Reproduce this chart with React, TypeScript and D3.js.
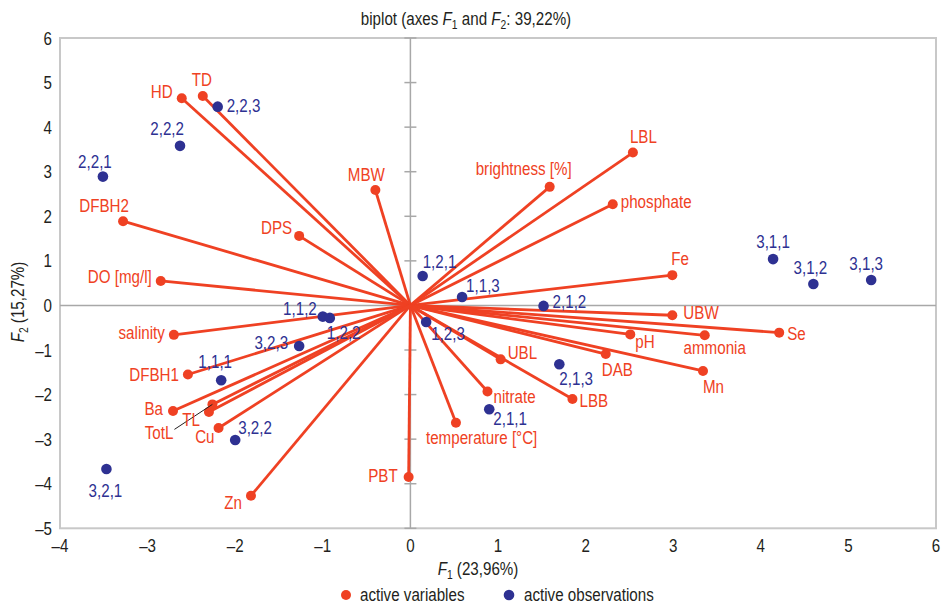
import * as d3 from 'd3';
import type { ReactNode } from 'react';

// PCA biplot: variable loadings (red vectors) and observation scores (blue points)
const variableNames = [
  'HD', 'TD', 'DFBH2', 'DPS', 'DO [mg/l]', 'salinity', 'DFBH1', 'MBW',
  'brightness [%]', 'LBL', 'phosphate', 'Fe', 'UBW', 'Se', 'pH', 'ammonia',
  'Mn', 'DAB', 'UBL', 'LBB', 'nitrate', 'temperature [°C]', 'PBT', 'Zn',
  'Cu', 'Ba', 'TL', 'TotL',
];
const variableF1 = [
  -2.61, -2.37, -3.28, -1.27, -2.85, -2.70, -2.54, -0.40,
  1.59, 2.54, 2.31, 2.99, 2.99, 4.21, 2.51, 3.36,
  3.34, 2.23, 1.03, 1.85, 0.88, 0.52, -0.02, -1.82,
  -2.19, -2.71, -2.30, -2.26,
];
const variableF2 = [
  4.65, 4.70, 1.89, 1.56, 0.55, -0.66, -1.55, 2.59,
  2.66, 3.43, 2.27, 0.68, -0.22, -0.61, -0.65, -0.67,
  -1.47, -1.09, -1.21, -2.10, -1.93, -2.63, -3.85, -4.27,
  -2.75, -2.37, -2.39, -2.22,
];

const observationNames = [
  '2,2,3', '2,2,2', '2,2,1', '1,2,1', '1,1,3', '2,1,2', '1,2,3', '1,1,2',
  '1,2,2', '3,2,3', '1,1,1', '3,2,2', '3,2,1', '2,1,1', '2,1,3', '3,1,1',
  '3,1,2', '3,1,3',
];
const observationF1 = [
  -2.20, -2.63, -3.51, 0.14, 0.59, 1.52, 0.18, -1.00,
  -0.92, -1.27, -2.16, -2.00, -3.47, 0.90, 1.70, 4.14,
  4.60, 5.26,
];
const observationF2 = [
  4.46, 3.58, 2.89, 0.66, 0.19, -0.01, -0.37, -0.25,
  -0.28, -0.91, -1.68, -3.02, -3.67, -2.33, -1.32, 1.04,
  0.48, 0.57,
];

const xTicks = [-4, -3, -2, -1, 0, 1, 2, 3, 4, 5, 6];
const yTicks = [-5, -4, -3, -2, -1, 0, 1, 2, 3, 4, 5, 6];

// label placement: [dx, dy, anchor]
type Anchor = 'start' | 'middle' | 'end';
type Place = [number, number, Anchor];
const labelPlace: Record<string, Place> = {
  HD: [-9, 0, 'end'],
  TD: [-1, -10, 'middle'],
  DFBH2: [-19, -9, 'middle'],
  DPS: [-7, -2, 'end'],
  'DO [mg/l]': [-9, 2, 'end'],
  salinity: [-9, 4, 'end'],
  DFBH1: [-9, 6, 'end'],
  MBW: [-9, -9, 'middle'],
  'brightness [%]': [-26, -12, 'middle'],
  LBL: [-3, -10, 'start'],
  phosphate: [8, 4, 'start'],
  Fe: [-1, -10, 'start'],
  UBW: [11, 4, 'start'],
  Se: [8, 7, 'start'],
  pH: [5, 14, 'start'],
  ammonia: [10, 19, 'middle'],
  Mn: [0, 22, 'start'],
  DAB: [-4, 22, 'start'],
  UBL: [7, 0, 'start'],
  LBB: [7, 8, 'start'],
  nitrate: [6, 12, 'start'],
  'temperature [°C]': [-30, 21.5, 'start'],
  PBT: [-11, 5, 'end'],
  Zn: [-9, 13, 'end'],
  Cu: [-4, 15, 'end'],
  Ba: [-10, 4, 'end'],
  TL: [-9, 14, 'end'],
  TotL: [-39, 35, 'end'],
  '2,2,3': [9, 5, 'start'],
  '2,2,2': [4, -11, 'end'],
  '2,2,1': [-8, -9, 'middle'],
  '1,2,1': [0, -8, 'start'],
  '1,1,3': [4, -5, 'start'],
  '2,1,2': [9, 2, 'start'],
  '1,2,3': [5, 18, 'start'],
  '1,1,2': [-6, -2, 'end'],
  '1,2,2': [-3, 21, 'start'],
  '3,2,3': [-11, 3, 'end'],
  '1,1,1': [-6, -12, 'middle'],
  '3,2,2': [3, -6, 'start'],
  '3,2,1': [-1, 28, 'middle'],
  '2,1,1': [4, 16, 'start'],
  '2,1,3': [0, 21, 'start'],
  '3,1,1': [0, -11, 'middle'],
  '3,1,2': [-3, -10, 'middle'],
  '3,1,3': [-5, -10, 'middle'],
};

const RED = '#ef4123';
const BLUE = '#2e3192';
const INK = '#231f20';
const GRID = '#a8a8a8';
const FONT = '"Liberation Sans", Arial, sans-serif';
const FS = 18.5;
const SQUEEZE = 0.82; // the original face is a narrow grotesque

const width = 943;
const height = 605;
const margin = { top: 38, right: 7, bottom: 76.7, left: 60 };

const minus = (v: number) => (v < 0 ? `–${Math.abs(v)}` : `${v}`);

function T({
  x,
  y,
  anchor = 'start',
  fill = INK,
  rotate,
  children,
}: {
  x: number;
  y: number;
  anchor?: Anchor;
  fill?: string;
  rotate?: number;
  children: ReactNode;
}) {
  const rot = rotate ? ` rotate(${rotate})` : '';
  return (
    <text transform={`translate(${x},${y})${rot} scale(${SQUEEZE},1)`} textAnchor={anchor} fill={fill}>
      {children}
    </text>
  );
}

// italic F with a subscript index, followed by the rest of the text on the baseline
const FSub = ({ i, rest }: { i: string; rest: string }) => (
  <>
    <tspan fontStyle="italic">F</tspan>
    <tspan dy={4} fontSize={FS * 0.68}>{i}</tspan>
    <tspan dy={-4}>{rest}</tspan>
  </>
);

export default function App() {
  const x = d3.scaleLinear().domain([-4, 6]).range([margin.left, width - margin.right]);
  const y = d3.scaleLinear().domain([-5, 6]).range([height - margin.bottom, margin.top]);

  const vars = variableNames.map((name, i) => ({ name, f1: variableF1[i], f2: variableF2[i] }));
  const obs = observationNames.map((name, i) => ({ name, f1: observationF1[i], f2: observationF2[i] }));

  const totL = vars.find((d) => d.name === 'TotL')!;
  const totLPlace = labelPlace.TotL;

  return (
    <svg
      width={width}
      height={height}
      style={{ position: 'absolute', left: 0, top: 0, background: '#fff' }}
      fontFamily={FONT}
      fontSize={FS}
    >
      {/* title */}
      <T x={466} y={25} anchor="middle">
        <tspan>biplot (axes </tspan>
        <FSub i="1" rest=" and " />
        <FSub i="2" rest=": 39,22%)" />
      </T>

      {/* frame */}
      <rect
        x={x(-4)}
        y={y(6)}
        width={x(6) - x(-4)}
        height={y(-5) - y(6)}
        fill="none"
        stroke="#c8c8c8"
        strokeWidth={2}
      />

      {/* zero axes */}
      <line x1={x(-4)} x2={x(6)} y1={y(0)} y2={y(0)} stroke={GRID} strokeWidth={1.5} />
      <line x1={x(0)} x2={x(0)} y1={y(6)} y2={y(-5)} stroke={GRID} strokeWidth={1.5} />
      {yTicks.map((t) => (
        <line key={`yt${t}`} x1={x(0) - 6} x2={x(0) + 6} y1={y(t)} y2={y(t)} stroke={GRID} strokeWidth={1.5} />
      ))}

      {/* tick labels */}
      {yTicks.map((t) => (
        <T key={`yl${t}`} x={52} y={y(t) + 6.5} anchor="end">
          {minus(t)}
        </T>
      ))}
      {xTicks.map((t) => (
        <T key={`xl${t}`} x={x(t)} y={552} anchor="middle">
          {minus(t)}
        </T>
      ))}

      {/* axis titles */}
      <T x={478} y={575} anchor="middle">
        <FSub i="1" rest=" (23,96%)" />
      </T>
      <T x={24} y={302} anchor="middle" rotate={-90}>
        <FSub i="2" rest=" (15,27%)" />
      </T>

      {/* variable vectors */}
      {vars.map((d) => (
        <line
          key={`v${d.name}`}
          x1={x(0)}
          y1={y(0)}
          x2={x(d.f1)}
          y2={y(d.f2)}
          stroke={RED}
          strokeWidth={2.8}
        />
      ))}
      {vars.map((d) => (
        <circle key={`vc${d.name}`} cx={x(d.f1)} cy={y(d.f2)} r={5} fill={RED} />
      ))}

      {/* leader for TotL */}
      <line
        x1={x(totL.f1) + totLPlace[0] + 1}
        y1={y(totL.f2) + totLPlace[1] - 10}
        x2={x(totL.f1)}
        y2={y(totL.f2)}
        stroke={INK}
        strokeWidth={1}
      />

      {vars.map((d) => {
        const [dx, dy, anchor] = labelPlace[d.name];
        return (
          <T key={`vl${d.name}`} x={x(d.f1) + dx} y={y(d.f2) + dy} anchor={anchor} fill={RED}>
            {d.name}
          </T>
        );
      })}

      {/* observations */}
      {obs.map((d) => (
        <circle key={`oc${d.name}`} cx={x(d.f1)} cy={y(d.f2)} r={5.3} fill={BLUE} />
      ))}
      {obs.map((d) => {
        const [dx, dy, anchor] = labelPlace[d.name];
        return (
          <T key={`ol${d.name}`} x={x(d.f1) + dx} y={y(d.f2) + dy} anchor={anchor} fill={BLUE}>
            {d.name}
          </T>
        );
      })}

      {/* legend */}
      <circle cx={346} cy={595} r={5} fill={RED} />
      <T x={360} y={601}>active variables</T>
      <circle cx={509} cy={595} r={5.3} fill={BLUE} />
      <T x={524} y={601}>active observations</T>
    </svg>
  );
}
